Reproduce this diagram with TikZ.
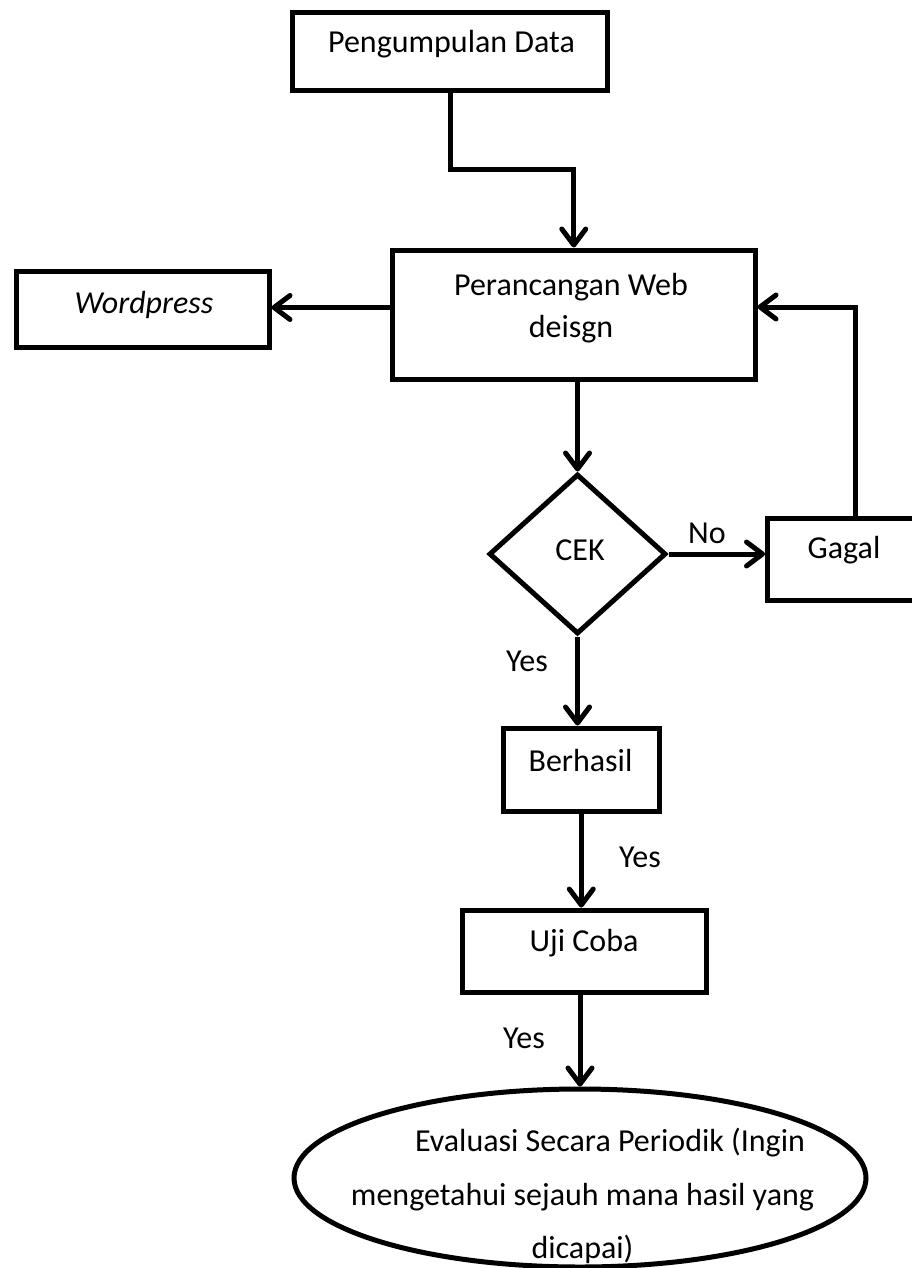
\documentclass[tikz,border=0pt]{standalone}
\usepackage{fontspec}
\setmainfont{Carlito}
\usetikzlibrary{arrows.meta,shapes.geometric}
\begin{document}
\begin{tikzpicture}[x=1pt,y=-1pt,
  box/.style={draw, line width=5pt, inner sep=0pt, rectangle},
  conn/.style={line width=5pt, line join=miter},
  arr/.style={conn, -{Straight Barb[length=16pt,width=24pt,round]}},
  txt/.style={inner sep=0pt, anchor=base, font=\fontsize{32}{38}\selectfont}]
\useasboundingbox (0,0) rectangle (912,1268);
\clip (0,0) rectangle (912,1268);
% boxes
\node[box, minimum width=315pt, minimum height=78.5pt] (pd) at (450,51.75) {};
\node[box, minimum width=362.5pt, minimum height=129pt] (pw) at (573.75,314.5) {};
\node[box, minimum width=253pt, minimum height=76.5pt] (wp) at (142.5,309.25) {};
\node[draw, line width=5pt, diamond, inner sep=0pt, minimum width=177pt, minimum height=160pt] (dia) at (577.5,554) {};
\node[box, minimum width=157.5pt, minimum height=81.5pt] (ga) at (846.25,559.25) {};
\node[box, minimum width=155.5pt, minimum height=83pt] (be) at (581.25,769.5) {};
\node[box, minimum width=243.5pt, minimum height=82pt] (uj) at (584.25,951) {};
\node[draw, line width=5pt, ellipse, inner sep=0pt, minimum width=572pt, minimum height=178pt] (ev) at (580,1178) {};
% texts
\node[txt] (tpd) at (451.5,53) {Pengumpulan Data};
\node[txt] (tpw1) at (571,295) {Perancangan Web};
\node[txt] (tpw2) at (571,337.5) {deisgn};
\node[txt, font=\fontsize{32}{38}\selectfont\itshape] (twp) at (144,313) {Wordpress};
\node[txt] (tdia) at (580,560) {CEK};
\node[txt] (tga) at (844,558) {Gagal};
\node[txt] (tbe) at (580.5,771) {Berhasil};
\node[txt] (tuj) at (584,951) {Uji Coba};
\node[txt] (tev1) at (610,1151) {Evaluasi Secara Periodik (Ingin};
\node[txt] (tev2) at (582.5,1205) {mengetahui sejauh mana hasil yang};
\node[txt] (tev3) at (582.5,1258) {dicapai)};
% labels
\node[txt] (lno) at (707,543) {No};
\node[txt] (ly1) at (527,671) {Yes};
\node[txt] (ly2) at (640,867) {Yes};
\node[txt] (ly3) at (524,1048) {Yes};
% helper coordinates
\coordinate (j1) at (0,170);
\coordinate (wy) at (0,307.5);
\coordinate (lp) at (855,307);
% connectors
\draw[arr] (pd.south) -- (pd.south |- j1) -| (pw.north);
\draw[arr] (pw.west |- wy) -- (wp.east |- wy);
\draw[arr] (pw.south -| dia.north) -- (dia.north);
\draw[arr] (dia.east) -- (dia.east -| ga.west);
\draw[arr] (ga.north -| lp) |- (pw.east |- lp);
\draw[arr] (dia.south) -- (dia.south |- be.north);
\draw[arr] (be.south) -- (be.south |- uj.north);
\draw[arr] (uj.south -| ev.north) -- (ev.north);
\end{tikzpicture}
\end{document}
